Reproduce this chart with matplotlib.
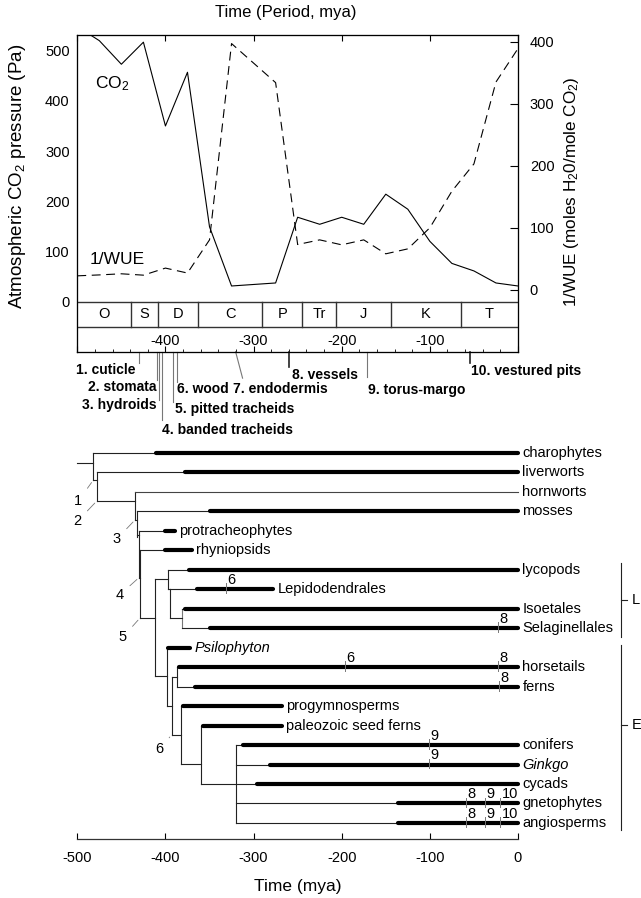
import matplotlib
matplotlib.use('Agg')
import matplotlib.pyplot as plt
from matplotlib.ticker import MultipleLocator

plt.rcParams['font.family'] = ['Liberation Sans', 'DejaVu Sans']
plt.rcParams['mathtext.fontset'] = 'custom'
plt.rcParams['mathtext.rm'] = 'Liberation Sans'
plt.rcParams['mathtext.it'] = 'Liberation Sans:italic'
plt.rcParams['mathtext.bf'] = 'Liberation Sans:bold'
plt.rcParams['axes.unicode_minus'] = False

# ---------------- data: top panel ----------------
time_pts = [-500, -475, -450, -425, -400, -375, -350, -325, -275, -250,
            -225, -200, -175, -150, -125, -100, -75, -50, -25, 0]
co2_pa = [548, 520, 473, 517, 350, 457, 149, 31, 37, 168,
          154, 168, 154, 214, 184, 120, 76, 61, 37, 31]
inv_wue = [22.5, 24, 25.8, 23.6, 35, 27, 80.5, 397, 334, 73,
           80.5, 72.5, 80.5, 58, 66, 100, 159, 203, 335, 389]

period_names = ['O', 'S', 'D', 'C', 'P', 'Tr', 'J', 'K', 'T']
period_bounds = [-500, -439, -409, -363, -290, -245, -206, -144, -65, 0]
time_ticks = [-400, -300, -200, -100]

event_labels = ['1. cuticle', '2. stomata', '3. hydroids', '4. banded tracheids',
                '5. pitted tracheids', '6. wood', '7. endodermis', '8. vessels',
                '9. torus-margo', '10. vestured pits']
event_times = [-429.7, -409.3, -407.0, -404.3, -391.8, -386.6, -320.4, -260.3, -171.2, -54.8]
event_times_end = [-429.7, -409.3, -407.0, -404.3, -391.8, -386.6, -312.5, -260.3, -171.2, -54.8]

# ---------------- data: tree ----------------
taxa = ['charophytes', 'liverworts', 'hornworts', 'mosses', 'protracheophytes',
        'rhyniopsids', 'lycopods', 'Lepidodendrales', 'Isoetales', 'Selaginellales',
        'Psilophyton', 'horsetails', 'ferns', 'progymnosperms', 'paleozoic seed ferns',
        'conifers', 'Ginkgo', 'cycads', 'gnetophytes', 'angiosperms']
italic_taxa = ['Psilophyton', 'Ginkgo']
branch_origin = [-482, -478, -434.6, -432, -430, -429, -397, -395, -381.6, -381.6,
                 -398.6, -387.3, -387.3, -382.8, -359.8, -320.4, -320.4, -320.4, -320.4, -320.4]
fossil_start = [-410.7, -378, None, -349.6, -400.4, -400, -373, -364, -378, -349.5,
                -397, -385, -366.5, -380.5, -357, -311.6, -281.7, -296.6, -135.7, -135.7]
fossil_end = [0, 0, None, 0, -389, -370, 0, -278, 0, 0,
              -372, 0, 0, -268, -268, 0, 0, 0, 0, 0]

# internal nodes: time, first row, last row
node_time = {'A': -482, 'B': -478, 'C': -434.6, 'D': -432, 'E': -430, 'E2': -429,
             'F': -412, 'L': -397, 'L2': -395, 'M': -381.6, 'P': -398.6, 'G': -393,
             'H': -387.3, 'I': -382.8, 'J': -359.8, 'K': -320.4}
node_span = {'A': (0, 1.4), 'B': (1, 2.47), 'C': (2, 3.44), 'D': (3, 4.3), 'E': (4, 6.4),
             'E2': (5, 8.48), 'F': (6.48, 11.45), 'L': (6, 7), 'L2': (7, 8.48), 'M': (8, 9),
             'P': (10, 13), 'G': (11.5, 14.48), 'H': (11, 12), 'I': (13, 15.97),
             'J': (14, 17), 'K': (15, 19)}
# parent -> child connections (row of the horizontal)
links = [('A', 'B', 1.4), ('B', 'C', 2.47), ('C', 'D', 3.44), ('D', 'E', 4.2),
         ('E', 'E2', 6.4), ('E2', 'F', 8.48), ('F', 'L', 6.48), ('L', 'L2', 7),
         ('L2', 'M', 8.48), ('F', 'P', 11.45), ('P', 'G', 13), ('G', 'H', 11.5),
         ('G', 'I', 14.48), ('I', 'J', 15.97), ('J', 'K', 17)]
root_time = -500

# character marks on branches: taxon, time, label
char_marks = [('Lepidodendrales', -331, '6'), ('Selaginellales', -23, '8'),
              ('horsetails', -196, '6'), ('horsetails', -23, '8'), ('ferns', -22, '8'),
              ('conifers', -101, '9'), ('Ginkgo', -101, '9'),
              ('gnetophytes', -59, '8'), ('gnetophytes', -38, '9'), ('gnetophytes', -20, '10'),
              ('angiosperms', -59, '8'), ('angiosperms', -38, '9'), ('angiosperms', -20, '10')]
# numbered nodes (characters 1-6)
node_marks = [('1', 'A'), ('2', 'B'), ('3', 'C'), ('4', 'E'), ('5', 'E2'), ('6', 'G')]
node_mark_offsets = [(-15, -21), (-19, -20), (-18, -19), (-19, -17), (-17, -19), (-12, -14)]

W, H = 641, 898
fig = plt.figure(figsize=(W / 100, H / 100), dpi=100)

FS = 10.5

# ================= top panel =================
ax1 = fig.add_axes([77.3 / W, 1 - 351.7 / H, (518 - 77.3) / W, (351.7 - 35) / H])
ax1.set_xlim(-500, 0)
ax1.set_ylim(-100, 531.3)
ax2 = ax1.twinx()
ax2.set_ylim(-99.8, 410.8)

ax1.plot(time_pts, co2_pa, color='black', lw=0.8, clip_on=True)
ax2.plot(time_pts, inv_wue, color='black', lw=0.8, linestyle=(0, (8, 5)))

for sp in ax1.spines.values():
    sp.set_linewidth(0.9)
    sp.set_color('#333333')

ax1.set_yticks([0, 100, 200, 300, 400, 500])
ax1.tick_params(axis='y', length=0, pad=5.5, labelsize=FS)
ax2.set_yticks([0, 100, 200, 300, 400])
ax2.tick_params(axis='y', direction='in', length=6, width=0.8, pad=8.5, labelsize=FS)

ax1.xaxis.set_major_locator(MultipleLocator(100))
ax1.xaxis.set_minor_locator(MultipleLocator(20))
ax1.tick_params(axis='x', which='major', direction='in', top=True, bottom=True,
                length=4.5, width=0.8, labelbottom=False, labeltop=False)
ax1.tick_params(axis='x', which='minor', direction='in', top=False, bottom=True,
                length=2.5, width=0.6)

# period boxes
ax1.plot([-500, 0], [0, 0], color='#333333', lw=1.0)
ax1.plot([-500, 0], [-50, -50], color='#333333', lw=1.0)
for b in period_bounds[1:-1]:
    ax1.plot([b, b], [-50, 0], color='#333333', lw=1.0)
for i, name in enumerate(period_names):
    ax1.text((period_bounds[i] + period_bounds[i + 1]) / 2, -25, name,
             ha='center', va='center', fontsize=FS)
for t in time_ticks:
    ax1.text(t, -79.5, str(t), ha='center', va='center', fontsize=FS)

ax1.text(-480, 435, 'CO$_2$', ha='left', va='center', fontsize=12.5)
ax1.text(-486, 83, '1/WUE', ha='left', va='center', fontsize=12.5)

ax1.set_ylabel('Atmospheric CO$_2$ pressure (Pa)', fontsize=13.5)
ax1.yaxis.set_label_coords(-0.112, 0.552)
ax2.set_ylabel('1/WUE (moles H$_2$0/mole CO$_2$)', fontsize=12.3)
ax2.yaxis.set_label_coords(1.099, 0.505)

fig.text(286 / W, 1 - 12 / H, 'Time (Period, mya)', ha='center', va='center', fontsize=12)

# event markers below panel
line_end_pa = [-122.7, -156, -196, -237, -199.4, -159.5, -152.7, -130.8, -149.5, -121.6]
lab_x = [-501.5, -410, -409.6, -403.6, -389.2, -386.6, -323.8, -256.9, -170, -52.8]
lab_y = [-136, -170.5, -205.7, -255.7, -213.6, -173.8, -173.8, -145.9, -175.8, -139.3]
lab_ha = ['left', 'right', 'right', 'left', 'left', 'left', 'left', 'left', 'left', 'left']
dark = [False, False, False, False, False, False, False, True, False, True]
for i, lab in enumerate(event_labels):
    ax1.plot([event_times[i], event_times_end[i]], [-100, line_end_pa[i]],
             color='#222222' if dark[i] else '#777777', lw=1.2 if dark[i] else 0.8,
             clip_on=False)
    ax1.text(lab_x[i], lab_y[i], lab, ha=lab_ha[i], va='center', fontsize=10,
             fontweight='bold')

# ================= tree panel =================
row_px = 19.47
ax3 = fig.add_axes([77.3 / W, 1 - 839 / H, (518 - 77.3) / W, (839 - 440) / H])
ax3.set_xlim(-500, 0)
ax3.set_ylim((839 - 453) / row_px, (440 - 453) / row_px)
for s in ['top', 'left', 'right']:
    ax3.spines[s].set_visible(False)
ax3.spines['bottom'].set_linewidth(0.9)
ax3.spines['bottom'].set_color('#333333')
ax3.set_yticks([])
ax3.set_xticks([-500, -400, -300, -200, -100, 0])
ax3.tick_params(axis='x', direction='in', length=4.5, width=0.8, pad=9, labelsize=FS)
fig.text(297.8 / W, 1 - 887 / H, 'Time (mya)', ha='center', va='center', fontsize=12.5)

lc = '#222222'
# root
ax3.plot([root_time, node_time['A']], [0.5, 0.5], color=lc, lw=0.8, clip_on=False)
# nodes
for k, t in node_time.items():
    r0, r1 = node_span[k]
    ax3.plot([t, t], [r0, r1], color=lc if k != 'M' else '#777777', lw=0.8, clip_on=False)
for p, c, r in links:
    ax3.plot([node_time[p], node_time[c]], [r, r], color=lc, lw=0.8, clip_on=False)
# branches
for i, name in enumerate(taxa):
    start = fossil_start[i]
    if start is None:
        ax3.plot([branch_origin[i], 0], [i, i], color='#444444', lw=0.8, clip_on=False)
        end = 0
    else:
        ax3.plot([branch_origin[i], start], [i, i], color=lc, lw=0.8, clip_on=False)
        ax3.plot([start, fossil_end[i]], [i, i], color='black', lw=3.0,
                 solid_capstyle='round', clip_on=False)
        end = fossil_end[i]
    style = 'italic' if name in italic_taxa else 'normal'
    ax3.text(end + 5, i, name, ha='left', va='center', fontsize=FS, fontstyle=style)

# character marks on branches
for name, t, lab in char_marks:
    r = taxa.index(name)
    ax3.plot([t, t], [r - 0.3, r + 0.2], color='#777777', lw=0.7, clip_on=False)
    ax3.annotate(lab, xy=(t, r), xytext=(1, 1.5), textcoords='offset points',
                 ha='left', va='bottom', fontsize=FS)

# numbered nodes
for (lab, k), (dx, dy) in zip(node_marks, node_mark_offsets):
    xy = (node_time[k], node_span[k][1])
    ax3.annotate(lab, xy=xy, xytext=(dx, dy), textcoords='offset pixels',
                 ha='center', va='center', fontsize=FS,
                 arrowprops=dict(arrowstyle='-', color='#777777', lw=0.6,
                                 shrinkA=3, shrinkB=2))

# clade brackets
brackets = [('L', 5.65, 9.43, 7.55), ('E', 9.86, 19.36, 13.97)]
bx = 117.3
for lab, r0, r1, rm in brackets:
    ax3.plot([bx, bx], [r0, r1], color=lc, lw=0.8, clip_on=False)
    ax3.plot([bx, bx + 6.5], [rm, rm], color=lc, lw=0.8, clip_on=False)
    ax3.text(bx + 11.5, rm, lab, ha='left', va='center', fontsize=FS)

fig.savefig('out.png', dpi=100)
